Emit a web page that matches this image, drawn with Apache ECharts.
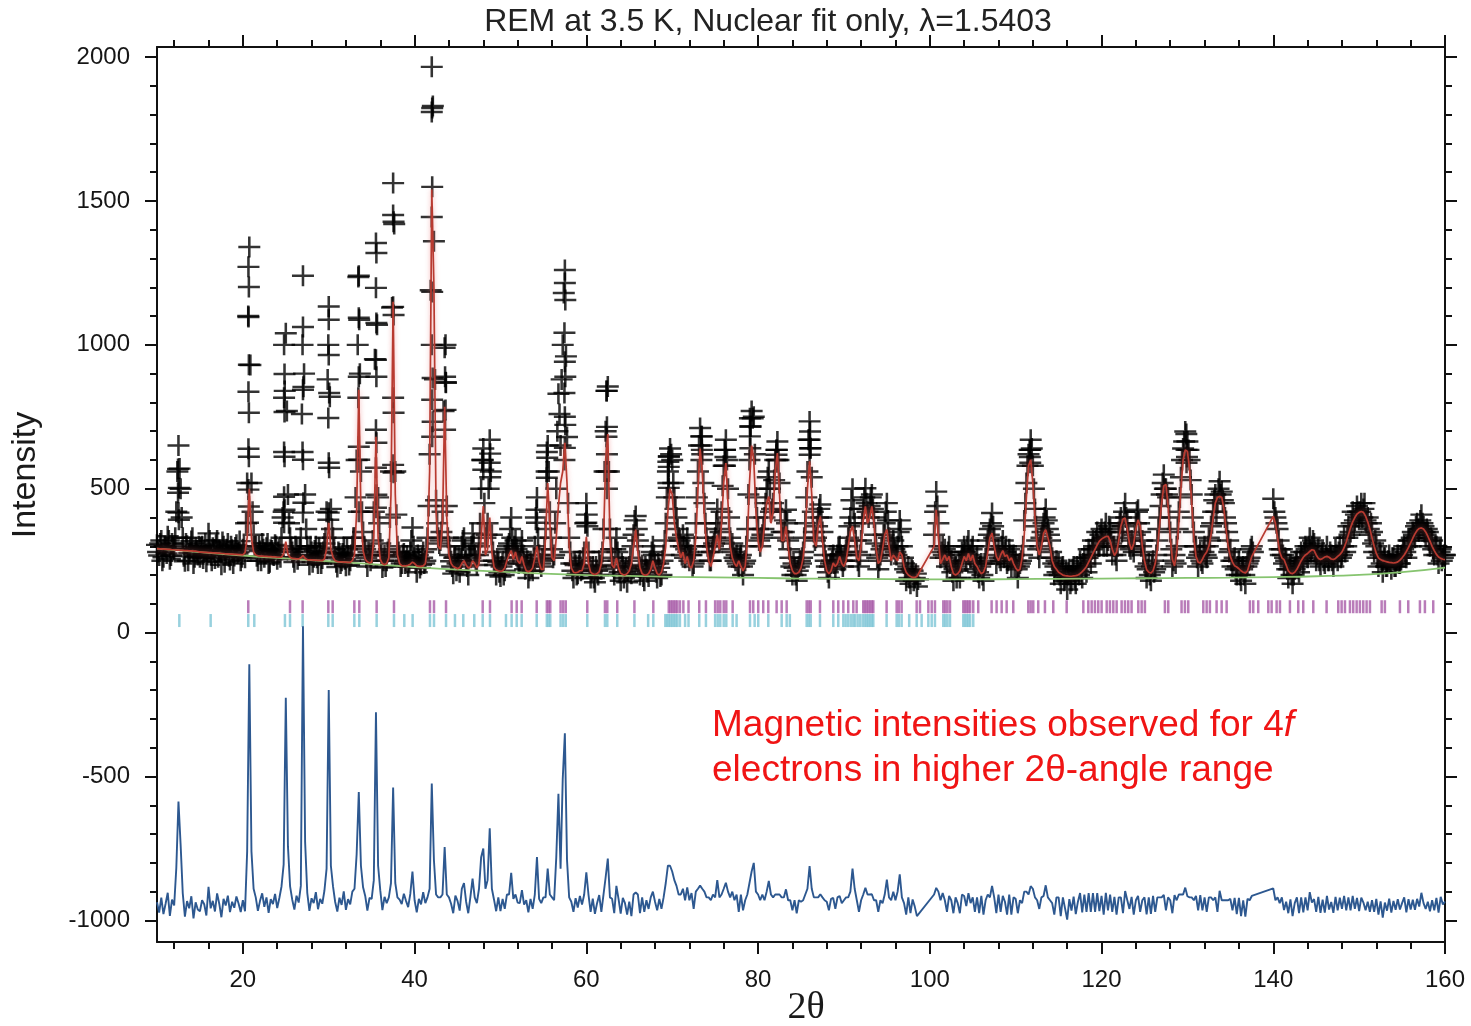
<!DOCTYPE html>
<html><head><meta charset="utf-8">
<script src="https://cdn.jsdelivr.net/npm/echarts@6/dist/echarts.min.js"></script>
<style>html,body{margin:0;padding:0;background:#fff}#c{width:1471px;height:1026px}</style>
</head><body><div id="c"></div>
<script>
// ---- data (2θ grid: start + step) ----
const angleStart = 10;
const angleStep = 0.25;

// observed counts on the main grid (10.00, 10.25, ... 160.00)
const observed = [
305,268,320,262,298,335,255,310,290,420,650,500,330,248,302,276,318,240,296,270,
262,300,285,246,345,270,295,258,320,284,236,300,276,310,252,288,266,305,280,250,
290,260,520,1340,520,340,300,250,284,310,262,295,240,288,270,305,255,290,330,420,
1040,480,330,280,245,292,268,330,1240,480,300,236,280,262,300,240,276,258,310,420,
1133,430,330,264,228,275,250,296,232,268,250,300,330,600,1240,560,350,290,230,270,
270,420,1354,470,310,226,268,250,290,560,1562,560,300,262,240,275,250,230,280,365,
260,210,255,236,280,250,330,620,1966,1360,460,330,320,420,990,440,300,248,205,262,
240,210,300,330,250,200,260,345,270,235,300,500,640,330,380,670,340,250,200,245,
195,240,215,290,310,400,280,320,262,250,320,240,235,190,240,215,300,470,270,230,
250,360,650,420,290,270,500,830,650,1000,1260,680,330,240,190,235,205,250,220,280,
450,280,190,230,175,215,250,220,360,700,855,360,260,200,330,250,180,230,210,175,
230,205,340,405,320,200,235,180,220,195,250,300,240,190,225,200,270,380,560,640,
600,470,400,330,300,340,260,330,250,270,240,380,560,711,620,450,330,280,250,300,
330,430,320,420,580,670,500,330,310,260,270,230,270,200,250,360,600,770,750,470,
360,300,340,400,500,560,420,450,600,664,520,350,350,427,320,260,200,225,180,230,
240,280,380,560,734,540,350,330,400,445,350,270,230,190,240,270,220,270,300,250,
250,280,330,400,500,380,280,230,320,430,502,420,440,480,400,310,220,270,300,380,
450,330,270,320,280,300,390,300,240,180,230,170,215,190,160,null,null,null,null,null,
null,null,340,490,380,260,300,290,230,300,250,180,230,215,190,280,300,250,320,260,
300,220,260,190,240,180,250,320,360,416,330,240,290,250,320,280,240,290,230,270,
250,190,240,270,390,520,620,670,580,430,320,260,330,380,430,360,320,260,200,250,
240,170,230,190,150,220,180,230,170,215,250,190,260,210,290,240,320,270,350,300,
360,300,380,320,360,270,300,250,350,400,370,450,380,300,320,280,380,427,350,320,
280,190,240,180,250,220,320,400,480,549,500,470,350,230,270,300,420,540,640,699,
664,600,480,350,300,230,280,240,300,260,330,370,420,480,450,526,490,450,380,320,
290,230,260,200,250,180,230,170,240,260,300,null,null,null,null,null,null,null,null,null,
465,400,360,290,290,240,250,190,230,170,220,250,210,280,240,300,260,330,300,310,
250,290,230,280,240,300,250,270,230,290,250,300,270,330,300,370,350,420,390,440,
400,450,430,390,400,340,350,280,300,230,270,210,260,230,270,220,260,230,270,240,
270,300,260,320,300,350,330,380,360,410,370,340,350,300,320,270,300,240,290,260,
270
];

// observed counts half-way between grid points (10.125, 10.375, ... 159.875)
const observedMid = [
280,310,250,300,275,320,268,295,330,560,570,400,265,310,250,290,330,262,285,300,
295,258,310,270,320,250,288,305,262,280,315,245,290,265,300,240,296,275,318,262,
300,380,1100,930,420,300,265,300,250,290,275,310,245,285,268,300,280,262,400,840,
770,380,290,262,300,255,290,760,900,360,270,300,245,285,260,295,240,280,330,880,
820,360,290,245,280,240,275,255,290,235,270,330,470,1000,900,420,300,260,280,250,
320,950,1070,380,270,250,230,280,400,1130,1420,410,280,230,270,240,265,250,320,300,
240,270,225,260,240,290,440,1190,1830,880,380,310,350,770,870,330,270,230,260,215,
260,250,320,290,230,270,300,310,250,270,380,600,450,340,500,560,280,235,250,210,
230,200,260,300,360,330,300,290,240,280,270,220,250,215,230,260,400,330,240,255,
290,560,560,330,260,380,700,760,880,1180,960,450,280,215,240,200,235,215,260,380,
370,230,215,190,230,200,235,280,560,840,560,290,230,290,280,210,240,190,225,215,
260,300,390,360,250,220,195,230,210,240,280,270,210,240,195,250,320,470,612,620,
520,430,360,320,270,300,290,280,270,230,300,470,650,682,520,380,300,250,280,310,
380,360,350,510,635,600,400,290,280,250,240,260,230,240,300,480,716,745,620,400,
320,330,360,450,540,500,430,530,635,600,420,330,390,380,290,230,240,200,215,250,
260,330,470,670,641,420,320,370,430,400,300,250,210,230,250,240,250,290,270,230,
270,300,370,460,430,320,250,270,380,470,450,400,470,430,340,260,250,290,340,420,
390,300,300,290,270,350,360,260,220,210,190,220,180,205,185,null,null,null,null,null,
null,null,420,440,300,280,270,260,280,240,210,220,190,240,250,270,280,300,270,290,
250,240,210,230,200,240,300,340,380,370,290,270,260,300,260,300,250,270,260,230,
220,230,250,300,450,580,635,640,500,370,290,300,350,400,390,340,280,240,230,210,
200,220,180,210,200,170,220,190,230,200,230,240,230,260,270,290,300,320,300,340,
330,350,300,370,310,300,270,300,380,350,420,400,330,290,300,340,420,380,300,270,
230,220,200,230,210,270,360,440,520,500,480,400,290,250,240,360,470,600,664,690,
635,530,400,300,260,270,250,280,270,300,320,380,460,420,500,480,460,400,350,280,
250,250,220,230,200,220,200,230,250,290,280,null,null,null,null,null,null,null,null,null,
420,380,320,270,270,260,220,220,200,200,240,230,250,260,280,290,300,280,320,280,
270,250,270,250,270,250,280,250,260,270,280,260,300,280,330,340,380,370,410,420,
420,400,450,380,360,380,310,320,260,280,240,260,230,250,240,260,230,250,240,260,
290,280,300,320,330,340,370,360,390,380,350,360,320,330,290,300,270,280,250,270
];

const calculated = [
292,291,291,290,290,289,289,288,288,287,287,286,286,285,285,284,284,283,283,282,
280,280,279,279,278,278,277,277,276,276,275,275,274,274,273,273,272,272,271,271,
270,278,330,500,330,280,270,267,266,266,265,265,264,264,263,263,262,262,262,275,
316,272,262,258,257,256,256,260,268,258,254,253,253,252,252,251,251,250,256,290,
382,290,262,250,247,246,246,245,245,244,244,250,270,420,844,420,285,255,246,242,
245,330,681,330,255,240,236,240,260,480,1150,480,270,240,233,232,232,234,238,245,
240,232,230,230,232,240,300,560,1540,1200,420,300,290,380,785,400,270,240,230,226,
222,226,240,250,235,225,228,250,240,225,240,330,440,270,290,400,280,228,218,215,
213,215,225,250,270,285,255,280,250,240,265,235,215,212,215,225,260,300,245,220,
220,330,520,380,260,250,330,440,520,560,660,520,300,225,210,208,210,215,215,240,
333,240,210,204,202,205,212,240,320,600,690,330,235,225,260,225,206,202,200,205,
215,240,300,358,280,225,205,200,200,205,220,250,225,205,200,210,240,300,420,500,
480,380,330,290,260,280,240,265,230,225,250,330,500,640,560,400,300,250,230,260,
300,340,290,380,520,589,450,300,260,240,230,250,230,215,230,320,520,650,600,420,
320,280,300,380,450,473,380,420,560,624,480,320,320,369,300,240,215,205,205,210,
225,260,340,500,595,480,320,300,370,404,320,250,215,205,215,242,230,240,265,240,
230,250,300,350,370,320,260,250,300,390,439,380,400,439,380,290,240,250,290,340,
358,300,250,270,260,250,280,270,230,210,200,195,192,192,195,null,null,null,null,null,
null,null,300,427,330,240,255,270,250,265,230,205,200,205,215,240,265,250,275,250,
270,240,230,215,205,210,230,280,330,346,300,265,250,270,285,265,270,250,260,240,
225,215,220,260,340,470,580,601,520,400,300,270,300,345,358,330,300,250,230,220,
210,205,200,198,197,196,196,197,198,200,205,212,220,230,245,260,275,290,305,318,
325,330,334,335,320,290,268,280,320,370,395,398,360,310,288,310,360,392,370,300,
250,219,210,207,215,240,290,370,450,510,515,440,330,255,232,280,380,500,600,635,
630,570,450,330,265,245,242,255,270,280,300,340,400,450,470,473,470,430,360,300,
265,245,232,228,222,215,210,207,215,240,265,null,null,null,null,null,null,null,null,null,
404,380,330,280,260,254,235,215,207,205,210,220,235,250,262,270,275,282,288,286,
270,258,254,258,263,265,262,256,254,258,265,271,280,295,315,340,365,385,400,412,
418,421,418,405,385,360,330,300,275,260,254,250,248,246,244,243,242,243,246,252,
260,270,282,296,312,328,343,355,362,364,360,350,335,318,300,285,272,263,258,255,
254
];

const observedExtra = [
[12.45,569],[12.55,503],[12.45,486],[12.5,417],[12.55,392],
[20.65,1271],[20.7,1201],[20.65,1097],[20.7,931],[20.65,837],[20.7,764],[20.65,639],[20.7,611],[20.65,497],[20.7,438],[20.6,382],
[24.8,1000],[24.85,899],[24.8,816],[24.85,767],[24.8,628],[24.85,611],[24.8,472],[24.85,427],[24.8,382],
[27.0,1062],[26.95,1000],[27.05,854],[27.0,844],[26.95,628],[27.0,601],[27.05,451],[27.0,417],
[30.0,1087],[29.95,1000],[30.0,965],[30.05,833],[29.95,746],[30.0,590],[30.05,573],[30.0,417],[29.95,392],
[33.45,1236],[33.5,1094],[33.55,1087],[33.5,889],[33.45,816],[33.5,646],[33.55,601],[33.5,420],
[35.55,1319],[35.5,1198],[35.55,1076],[35.5,948],[35.55,889],[35.5,705],[35.55,660],[35.5,573],[35.55,479],[35.5,434],
[37.5,1451],[37.55,1428],[37.5,1132],[37.55,1104],[37.5,816],[37.55,764],[37.5,583],[37.55,556],
[42.05,1823],[42.0,1809],[42.05,1549],[42.0,1444],[42.05,1184],[42.0,1000],[42.1,885],[42.05,809],[42.1,733],[42.05,681],
[43.6,1000],[43.55,889],[43.65,868],[43.6,774],[43.55,705],
[47.95,600],[48.0,566],[48.8,622],[48.75,590],[48.8,540],
[54.2,427],[54.25,382],[55.4,628],[55.45,608],[55.4,538],
[57.5,1215],[57.55,1156],[57.45,1042],[57.5,941],[57.55,889],[57.45,833],[57.5,750],[57.55,722],[57.5,642],[57.45,600],
[60.05,410],[60.0,382],
[62.35,840],[62.4,715],[62.35,681],[62.4,620],[62.35,560],[62.4,500],
[69.6,612],[69.55,594],[69.6,576],[69.55,520],[69.6,503],
[73.45,682],[73.4,650],[73.45,635],[73.4,600],
[76.15,635],[76.2,610],[76.15,580],
[79.05,745],[79.1,716],[79.05,682],[79.1,641],
[82.2,635],[82.15,618],[82.2,600],
[86.05,699],[86.0,670],[86.05,641],[86.0,618],
[111.7,635],[111.65,610],[111.7,590],
[129.9,635],[129.95,610],[129.9,590]
];

const backgroundAngles = [10,15,20,25,30,35,40,45,50,55,60,65,70,75,80,85,90,95,100,105,110,115,120,125,130,135,140,145,150,155,160];
const backgroundValues = [292,280,268,258,248,238,228,219,212,205,200,197,194,192,190,188,187,186,185,185,186,187,188,189,190,191,193,196,201,210,226];

const differenceOffset = -950;

const phase1Reflections = [20.63,25.49,26.96,29.95,30.46,32.98,33.56,35.58,37.6,41.79,42.26,43.66,47.93,48.78,51.3,51.89,52.47,54.22,55.4,55.6,55.8,57.0,57.3,57.6,60.11,62.17,62.44,63.6,65.6,67.8,69.6,69.8,70.0,70.2,70.4,70.6,70.9,71.3,71.9,73.15,73.93,75.0,75.3,75.6,76.0,76.3,77.04,79.06,79.44,80.02,80.6,81.19,82.16,82.75,83.33,85.66,85.9,86.13,87.21,88.76,89.34,89.93,90.5,91.09,91.48,92.25,92.45,92.65,92.85,93.05,93.25,93.42,94.97,96.14,96.4,96.72,98.47,98.86,99.83,100.22,100.6,101.57,101.8,102.05,102.35,103.9,104.1,104.3,104.5,104.7,105.06,105.64,107.2,107.78,108.37,108.95,109.72,111.47,111.75,112.05,112.63,113.41,114.38,115.94,117.88,118.46,118.85,119.23,119.62,120.01,120.6,120.98,121.37,121.76,122.34,122.73,123.11,123.5,124.28,124.67,125.05,127.38,127.77,129.32,129.71,130.1,131.85,132.24,132.62,133.4,133.99,134.57,137.28,137.67,138.25,139.42,139.81,140.39,140.78,141.94,142.91,143.49,144.66,146.21,147.57,147.96,148.35,148.93,149.31,149.71,150.09,150.48,150.87,151.26,152.62,153.0,154.75,155.72,157.08,157.66,158.63];

const phase2Reflections = [12.6,16.25,20.63,21.33,24.9,25.49,26.96,29.95,30.46,32.98,33.56,35.58,37.6,38.8,39.77,41.79,42.26,43.66,44.7,45.67,46.95,47.93,48.78,50.64,51.3,51.89,52.47,54.22,55.4,55.6,55.8,57.0,57.3,57.6,60.11,62.17,62.44,63.6,65.6,67.2,67.8,69.2,69.4,69.6,69.8,70.0,70.2,70.4,70.6,70.9,71.5,71.9,73.15,73.93,75.0,75.3,75.6,76.0,76.3,77.04,77.5,79.06,79.6,80.02,81.19,82.75,83.33,83.7,85.66,85.9,86.13,87.21,88.76,89.34,89.93,90.2,90.5,90.8,91.09,91.3,91.6,91.9,92.2,92.45,92.65,92.85,93.05,93.25,93.42,94.97,96.14,96.4,96.72,97.6,98.47,99.05,99.83,100.22,100.6,101.57,101.8,102.05,102.35,103.9,104.1,104.3,104.5,104.7,105.06];

const xMajorTicks = [20,40,60,80,100,120,140,160];
const xMinorTicks = [12,16,24,28,32,36,44,48,52,56,64,68,72,76,84,88,92,96,104,108,112,116,124,128,132,136,144,148,152,156];
const yMajorTicks = [-1000,-500,0,500,1000,1500,2000];
const yMinorTicks = [-900,-800,-700,-600,-400,-300,-200,-100,100,200,300,400,600,700,800,900,1100,1200,1300,1400,1600,1700,1800,1900];

const titleText = 'REM at 3.5 K, Nuclear fit only, \u03bb=1.5403';
const xName = '2\u03b8';
const yName = 'Intensity';

// ---- build ----
const angles = observed.map((_, i) => +(angleStart + i * angleStep).toFixed(2));
const obsData = [];
observed.forEach((v, i) => { if (v != null) obsData.push([angles[i], v]); });
observedMid.forEach((v, i) => { if (v != null) obsData.push([+(angleStart + angleStep / 2 + i * angleStep).toFixed(3), v]); });
observedExtra.forEach(p => obsData.push(p));
const calcData = calculated.map((v, i) => [angles[i], v == null ? '-' : v]);
const diffData = angles.map((x, i) => (observed[i] == null || calculated[i] == null) ? [x, '-'] : [x, observed[i] - calculated[i] + differenceOffset]);
const bkgData = backgroundAngles.map((x, i) => [x, backgroundValues[i]]);

const FONT = '"Liberation Sans", Arial, sans-serif';
const axisCol = '#111';
const plain = v => String(v);

function xAxisDef(position, ticks, len, showLabel, showLine) {
  return {
    type: 'value', position, min: 10, max: 160, gridIndex: 0,
    axisLine: { show: showLine, onZero: false, lineStyle: { color: axisCol, width: 2 } },
    axisTick: { show: true, customValues: ticks, length: len, lineStyle: { color: axisCol, width: 2 } },
    axisLabel: { show: showLabel, customValues: ticks, formatter: plain, fontSize: 24, fontFamily: FONT, color: '#161616', margin: 26 },
    splitLine: { show: false }, minorTick: { show: false }
  };
}
function yAxisDef(position, ticks, len, showLabel, showLine) {
  return {
    type: 'value', position, min: -1075, max: 2035, gridIndex: 0,
    axisLine: { show: showLine, onZero: false, lineStyle: { color: axisCol, width: 2 } },
    axisTick: { show: true, customValues: ticks, length: len, lineStyle: { color: axisCol, width: 2 } },
    axisLabel: { show: showLabel, customValues: ticks, formatter: plain, fontSize: 24, fontFamily: FONT, color: '#161616', margin: 27 },
    splitLine: { show: false }, minorTick: { show: false }
  };
}

const option = {
  animation: false,
  backgroundColor: '#ffffff',
  grid: { left: 157, right: 26, top: 47, bottom: 84, containLabel: false },
  xAxis: [
    xAxisDef('bottom', xMajorTicks, 12, true, true),
    xAxisDef('bottom', xMinorTicks, 7, false, false),
    xAxisDef('top', xMajorTicks, 12, false, true),
    xAxisDef('top', xMinorTicks, 7, false, false)
  ],
  yAxis: [
    yAxisDef('left', yMajorTicks, 12, true, true),
    yAxisDef('left', yMinorTicks, 7, false, false),
    yAxisDef('right', yMajorTicks, 12, false, true),
    yAxisDef('right', yMinorTicks, 7, false, false)
  ],
  series: [
    {
      name: 'observed', type: 'scatter', data: obsData, z: 2,
      symbol: 'path://M0,10L20,10M10,0L10,20', symbolSize: [22, 21],
      itemStyle: { color: 'rgba(0,0,0,0)', borderColor: '#000', borderWidth: 2.5 },
      emphasis: { disabled: true }, silent: true, large: false
    },
    {
      name: 'background', type: 'line', data: bkgData, smooth: true, showSymbol: false, z: 4,
      lineStyle: { color: '#86c46f', width: 1.8 }, silent: true
    },
    {
      name: 'calculated', type: 'line', data: calcData, showSymbol: false, connectNulls: true, z: 5,
      lineStyle: { color: '#b83a30', width: 1.7, shadowColor: 'rgba(235,120,120,0.6)', shadowBlur: 5 }, silent: true
    },
    {
      name: 'difference', type: 'line', data: diffData, showSymbol: false, connectNulls: true, z: 4,
      lineStyle: { color: '#2d5890', width: 1.9 }, silent: true
    },
    {
      name: 'phase1', type: 'scatter', data: phase1Reflections.map(x => [x, 90]), z: 3,
      symbol: 'rect', symbolSize: [2.5, 13], itemStyle: { color: '#a85ba8' }, silent: true
    },
    {
      name: 'phase2', type: 'scatter', data: phase2Reflections.map(x => [x, 42]), z: 3,
      symbol: 'rect', symbolSize: [2.5, 13], itemStyle: { color: '#7ec6d6' }, silent: true
    }
  ],
  graphic: [
    { type: 'text', x: 768, y: 22, style: { text: titleText, font: '32px ' + FONT, fill: '#222', align: 'center', verticalAlign: 'middle', textAlign: 'center', textVerticalAlign: 'middle' } },
    { type: 'text', x: 26, y: 475, rotation: Math.PI / 2, style: { text: yName, font: '34px ' + FONT, fill: '#1a1a1a', align: 'center', verticalAlign: 'middle', textAlign: 'center', textVerticalAlign: 'middle' } },
    { type: 'text', x: 806, y: 1008, style: { text: xName, font: '38px "Liberation Serif", "Times New Roman", serif', fill: '#1a1a1a', align: 'center', verticalAlign: 'middle', textAlign: 'center', textVerticalAlign: 'middle' } },
    { type: 'text', x: 712, y: 703, style: {
        text: '{a|Magnetic intensities observed for 4}{b|f}\n{a|electrons in higher 2\u03b8-angle range}',
        rich: {
          a: { fontSize: 37, fontFamily: FONT, fill: '#f01414', lineHeight: 45 },
          b: { fontSize: 37, fontFamily: FONT, fontStyle: 'italic', fill: '#f01414', lineHeight: 45 }
        }
    } }
  ]
};

if (observed.length !== 601 || calculated.length !== 601 || observedMid.length !== 600) {
  option.graphic.push({ type: 'text', x: 300, y: 300, style: { text: 'LEN obs=' + observed.length + ' calc=' + calculated.length + ' mid=' + observedMid.length, font: '40px sans-serif', fill: 'blue' } });
}

const chart = echarts.init(document.getElementById('c'), null, { renderer: 'canvas' });
chart.setOption(option);
</script>
</body></html>
